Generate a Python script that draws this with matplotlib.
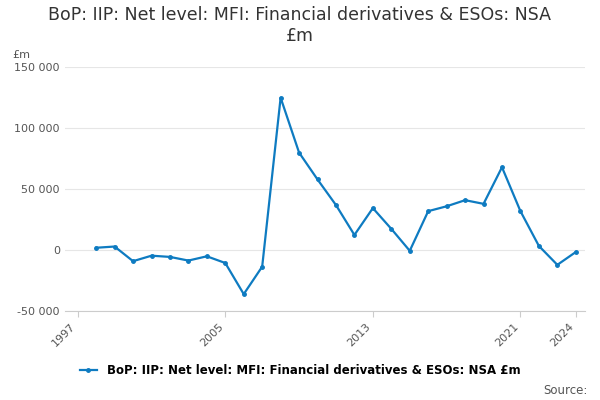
import matplotlib.pyplot as plt
from matplotlib.ticker import FuncFormatter

years = list(range(1998, 2025))
values = [2000, 3000, -9000, -4500, -5500, -8500, -5000, -10500, -36000, -13500,
          125000, 80000, 58000, 37000, 12500, 34500, 17500, -500, 32000, 36000,
          41000, 38000, 68000, 32000, 3500, -12000, -1500]
xticks = [1997, 2005, 2013, 2021, 2024]
yticks = [-50000, 0, 50000, 100000, 150000]
color = "#0e7bc1"

fig = plt.figure(figsize=(6, 4), dpi=100)
ax = fig.add_axes([0.108, 0.222, 0.867, 0.61])
ax.plot(years, values, color=color, lw=1.6, marker="o", ms=2.5,
        label="BoP: IIP: Net level: MFI: Financial derivatives & ESOs: NSA £m")
ax.set_xlim(1996.3, 2024.5)
ax.set_ylim(-50000, 150000)
ax.set_xticks(xticks)
ax.set_xticklabels([str(x) for x in xticks], rotation=45, ha="right", color="#555555", fontsize=8)
ax.set_yticks(yticks)
ax.yaxis.set_major_formatter(FuncFormatter(lambda v, p: f"{int(v):,}".replace(",", " ")))
ax.tick_params(axis="y", length=0, labelsize=8, labelcolor="#555555")
ax.tick_params(axis="x", length=4, color="#cccccc")
ax.grid(axis="y", color="#e6e6e6", lw=0.8)
for s in ["top", "right", "left"]:
    ax.spines[s].set_visible(False)
ax.spines["bottom"].set_color("#cccccc")
ax.set_axisbelow(True)

fig.suptitle("BoP: IIP: Net level: MFI: Financial derivatives & ESOs: NSA\n£m",
             fontsize=12.5, y=0.985, color="#333333")
fig.text(0.02, 0.855, "£m", fontsize=8, color="#555555")
fig.legend(loc="lower center", bbox_to_anchor=(0.5, 0.03), frameon=False, fontsize=8.5,
           handlelength=1.5, prop={"weight": "bold", "size": 8.5})
fig.text(0.98, 0.015, "Source:", fontsize=8.5, ha="right", color="#555555")
fig.savefig("out.png", dpi=100)
